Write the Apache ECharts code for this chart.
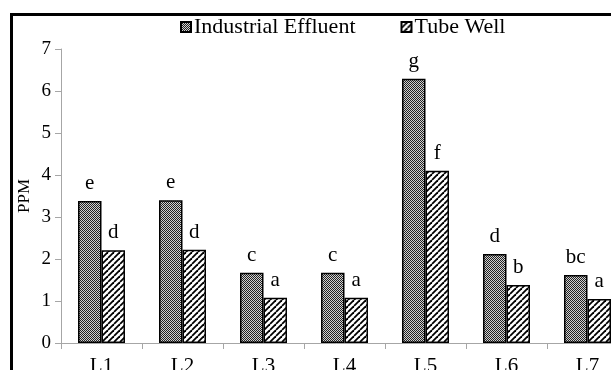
<!DOCTYPE html>
<html>
<head>
<meta charset="utf-8">
<script src="https://cdn.jsdelivr.net/npm/echarts@6/dist/echarts.min.js"></script>
<style>
html,body{margin:0;padding:0;background:#fff;}
#chart{width:611px;height:370px;}
</style>
</head>
<body>
<div id="chart"></div>
<script>
const categories = ['L1','L2','L3','L4','L5','L6','L7'];
const seriesNames = ['Industrial Effluent','Tube Well'];
const industrial = [3.38, 3.40, 1.67, 1.67, 6.29, 2.12, 1.62];
const tubeWell = [2.21, 2.22, 1.08, 1.08, 4.10, 1.38, 1.05];
const industrialLetters = ['e','e','c','c','g','d','bc'];
const tubeLetters = ['d','d','a','a','f','b','a'];
const yTicks = [0,1,2,3,4,5,6,7];

function checker(){
  const c = document.createElement('canvas');
  c.width = 2; c.height = 2;
  const g = c.getContext('2d');
  g.fillStyle = '#d0d0d0'; g.fillRect(0,0,2,2);
  g.fillStyle = '#222'; g.fillRect(0,0,1,1); g.fillRect(1,1,1,1);
  return c;
}
function hatch(){
  const s = 6;
  const c = document.createElement('canvas');
  c.width = s; c.height = s;
  const g = c.getContext('2d');
  g.fillStyle = '#ffffff'; g.fillRect(0,0,s,s);
  g.strokeStyle = '#000'; g.lineWidth = 1.8;
  for (const o of [-s, 0, s]) {
    g.beginPath(); g.moveTo(o, s); g.lineTo(o + s, 0); g.stroke();
  }
  return c;
}
const font = '"Liberation Serif", "Times New Roman", serif';
const chart = echarts.init(document.getElementById('chart'));
chart.setOption({
  animation: false,
  backgroundColor: '#fff',
  textStyle: { fontFamily: font },
  legend: {
    top: 11, left: 175,
    data: seriesNames,
    icon: 'rect',
    itemWidth: 10, itemHeight: 10, itemGap: 45,
    textStyle: { fontFamily: font, fontSize: 22, color: '#000', padding: [0,0,0,-2] },
  },
  grid: { left: 61, top: 49, bottom: 27, right: -17, outerBoundsMode: 'none', containLabel: false },
  xAxis: {
    type: 'category', data: categories,
    axisLine: { lineStyle: { color: '#a6a6a6', width: 1 } },
    axisTick: { show: true, alignWithLabel: false, length: 6, lineStyle: { color: '#a6a6a6' } },
    axisLabel: { fontFamily: font, fontSize: 21, color: '#000', margin: 13 }
  },
  yAxis: {
    type: 'value', min: yTicks[0], max: yTicks[yTicks.length-1], interval: 1,
    name: 'PPM', nameLocation: 'middle', nameGap: 28, nameRotate: 90, nameMoveOverlap: false,
    nameTextStyle: { fontFamily: font, fontSize: 17, color: '#000' },
    axisLine: { show: true, lineStyle: { color: '#a6a6a6', width: 1 } },
    axisTick: { show: true, length: 6, lineStyle: { color: '#a6a6a6' } },
    splitLine: { show: false },
    axisLabel: { fontFamily: font, fontSize: 19, color: '#000', margin: 10 }
  },
  series: [
    {
      name: seriesNames[0], type: 'bar', data: industrial,
      barGap: '0%', barCategoryGap: '42%',
      itemStyle: { color: { image: checker(), repeat: 'repeat' }, borderColor: '#000', borderWidth: 1.5 },
      label: { show: true, position: 'top', distance: 7, fontFamily: font, fontSize: 21, color: '#000',
        formatter: p => industrialLetters[p.dataIndex] }
    },
    {
      name: seriesNames[1], type: 'bar', data: tubeWell,
      barGap: '0%', barCategoryGap: '42%',
      itemStyle: { color: { image: hatch(), repeat: 'repeat' }, borderColor: '#000', borderWidth: 1.5 },
      label: { show: true, position: 'top', distance: 7, fontFamily: font, fontSize: 21, color: '#000',
        formatter: p => tubeLetters[p.dataIndex] }
    }
  ],
  graphic: [
    { type: 'rect', shape: { x: 10, y: 13, width: 601, height: 3 }, style: { fill: '#000' }, silent: true },
    { type: 'rect', shape: { x: 10, y: 13, width: 3, height: 357 }, style: { fill: '#000' }, silent: true }
  ]
});
</script>
</body>
</html>
